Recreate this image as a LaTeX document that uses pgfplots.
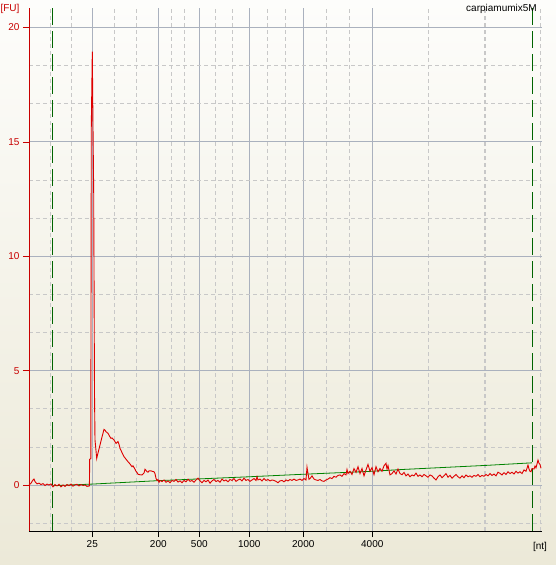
\documentclass[border=0pt]{standalone}
\usepackage{fontspec}
\setmainfont{Liberation Sans}
\usepackage{pgfplots}
\pgfplotsset{compat=1.18}
\definecolor{bgtop}{RGB}{253,253,251}
\definecolor{bgbot}{RGB}{236,233,216}
\definecolor{gridmaj}{RGB}{170,177,190}
\definecolor{gridmin}{RGB}{200,200,200}
\definecolor{trace}{RGB}{222,0,0}
\definecolor{base}{RGB}{0,130,0}
\definecolor{marker}{RGB}{0,100,0}
\definecolor{axred}{RGB}{200,0,0}
\begin{document}
\begin{tikzpicture}
\shade[top color=bgtop, bottom color=bgbot] (0pt,0pt) rectangle (556pt,565pt);
\begin{axis}[
  at={(29pt,34pt)}, anchor=south west,
  scale only axis, width=513pt, height=523pt,
  xmin=29, xmax=542, ymin=-2.01, ymax=20.85,
  axis lines*=left,
  x axis line style={black, line width=0.8pt},
  y axis line style={axred, line width=0.8pt},
  xtick={92.3,158.3,199.3,249.3,303.3,372.3},
  xticklabels={25,200,500,1000,2000,4000},
  ytick={0,5,10,15,20},
  minor xtick={50.7,71.7,114.3,136.3,171.7,184.3,215.7,232.3,267.7,285.3,326.7,349.3,428.7,485,540.3},
  minor ytick={-1.6667,1.6667,3.3333,6.6667,8.3333,11.6667,13.3333,16.6667,18.3333},
  grid=both,
  major grid style={gridmaj, line width=0.7pt},
  minor grid style={gridmin, dash pattern=on 4pt off 3pt, line width=0.7pt},
  tick align=outside,
  major tick length=6pt,
  minor tick length=0pt,
  xtick style={black, line width=0.6pt},
  ytick style={axred, line width=0.6pt},
  yticklabel style={axred},
  tick label style={font=\fontsize{10}{12}\selectfont},
  /pgf/number format/assume math mode=true,
  clip=true,
]
% thicker dashed gridline
\addplot[gridmin, line width=1.6pt, dash pattern=on 4pt off 3pt, forget plot] coordinates {(485,-2.01) (485,20.85)};
% marker lines
\addplot[marker, line width=1pt, dash pattern=on 17pt off 6pt] coordinates {(53,-2.01) (53,20.85)};
\addplot[marker, line width=1pt, dash pattern=on 17pt off 6pt] coordinates {(532,-2.01) (532,20.85)};
% baseline
\addplot[base, line width=0.8pt] coordinates {
(53,-0.03) (92,0.04) (158,0.19) (249,0.36) (303,0.47) (372,0.6) (403,0.68) (487,0.86) (532,0.97)};
% trace
\addplot[trace, line width=0.9pt] coordinates {
(29,0.0) (31,0.08) (33,0.22) (34,0.26) (35,0.15) (37,0.05) (39,0.08) (41,0.02) (43,0.06) (45,-0.02)
(47,0.04) (49,0.0) (51,0.05) (53,-0.08) (55,0.02) (57,-0.04) (59,0.03) (61,-0.08) (63,0.0) (65,-0.06)
(67,0.02) (69,-0.03) (71,0.04) (73,-0.05) (75,0.01) (77,0.03) (79,-0.04) (81,0.02) (83,-0.02) (85,0.0)
(87,-0.06) (89.4,-0.04) (89.7,1.13) (90.8,1.15) (91.3,15.66) (92.3,18.94) (93.0,15.66) (93.7,12.77)
(94.5,4.0) (95.0,1.97) (96.0,1.5) (96.7,1.16) (98,1.4) (100,1.75) (102,2.1) (104,2.43) (105,2.4)
(106,2.33) (108,2.26) (110,2.1) (111,2.04) (112,2.06) (114,1.97) (116,1.82) (117,1.86) (118,1.9)
(119,1.78) (120,1.6) (122,1.42) (124,1.24) (126,1.13) (128,1.02) (130,0.92) (132,0.8) (133,0.84)
(135,0.69) (136,0.6) (137,0.55) (138,0.47) (140,0.45) (142,0.44) (144,0.52) (145,0.69) (146,0.64)
(147,0.58) (148,0.56) (149,0.62) (151,0.62) (152,0.6) (154,0.58) (155,0.5) (156,0.29) (157,0.2)
(158,0.24) (159,0.12) (160,0.2) (162,0.15) (164,0.22) (166,0.12) (168,0.18) (170,0.1) (172,0.2)
(174,0.16) (176,0.24) (178,0.13) (180,0.18) (182,0.1) (184,0.2) (186,0.14) (188,0.25) (190,0.16)
(192,0.2) (194,0.12) (196,0.22) (198,0.3) (200,0.18) (202,0.1) (204,0.2) (206,0.14) (208,0.22)
(210,0.08) (212,0.18) (214,0.24) (216,0.15) (218,0.2) (220,0.12) (222,0.26) (224,0.18) (226,0.22)
(228,0.14) (230,0.24) (232,0.2) (234,0.28) (236,0.16) (238,0.22) (240,0.26) (242,0.18) (244,0.3)
(246,0.2) (248,0.24) (250,0.16) (252,0.22) (254,0.28) (256,0.2) (257,0.36) (258,0.22) (260,0.26)
(262,0.18) (264,0.28) (266,0.2) (268,0.24) (270,0.18) (272,0.22) (274,0.2) (276,0.16) (278,0.1)
(280,0.18) (282,0.2) (284,0.14) (286,0.22) (288,0.18) (290,0.24) (292,0.2) (294,0.26) (296,0.2)
(298,0.22) (300,0.26) (302,0.2) (304,0.28) (306,0.22) (307,0.78) (308,0.5) (309,0.25) (310,0.28)
(312,0.4) (314,0.26) (316,0.22) (318,0.2) (320,0.24) (322,0.18) (324,0.16) (326,0.22) (328,0.26)
(330,0.32) (332,0.28) (334,0.38) (336,0.34) (338,0.42) (340,0.44) (342,0.38) (344,0.5) (346,0.44)
(347,0.68) (348,0.5) (350,0.6) (352,0.46) (354,0.72) (356,0.55) (358,0.8) (360,0.5) (362,0.72)
(364,0.4) (366,0.66) (368,0.9) (370,0.6) (372,0.76) (374,0.45) (376,0.8) (378,0.58) (380,0.72)
(382,0.6) (384,0.84) (386,0.95) (387,0.7) (388,0.85) (390,0.44) (392,0.5) (394,0.62) (396,0.48)
(398,0.7) (400,0.5) (402,0.45) (404,0.55) (406,0.4) (408,0.48) (410,0.36) (412,0.44) (414,0.4)
(416,0.52) (418,0.38) (420,0.44) (422,0.36) (424,0.46) (426,0.4) (428,0.34) (430,0.44) (432,0.4)
(434,0.3) (436,0.22) (438,0.36) (440,0.44) (442,0.32) (444,0.4) (446,0.5) (448,0.34) (450,0.42)
(452,0.3) (454,0.38) (456,0.46) (458,0.36) (460,0.3) (462,0.4) (464,0.32) (466,0.44) (468,0.36)
(470,0.4) (472,0.34) (474,0.42) (476,0.38) (478,0.46) (480,0.36) (482,0.42) (484,0.38) (486,0.46)
(488,0.4) (490,0.5) (492,0.42) (494,0.48) (496,0.4) (498,0.56) (500,0.51) (502,0.44) (504,0.54)
(506,0.46) (508,0.58) (510,0.5) (512,0.56) (514,0.48) (516,0.6) (518,0.52) (520,0.58) (522,0.5)
(524,0.66) (526,0.6) (528,0.87) (529,0.7) (530,0.6) (531,0.58) (532,0.72) (534,0.7) (535,0.83)
(536,0.75) (538,1.09) (539,0.95) (540,0.9) (541,0.73)};
\end{axis}
\node[anchor=center, text=axred, font=\fontsize{10}{12}\selectfont, inner sep=0pt] at (10pt,556pt) {[FU]};
\node[anchor=east, font=\fontsize{10}{12}\selectfont, inner sep=0pt] at (537pt,556.5pt) {carpiamumix5M};
\node[anchor=center, font=\fontsize{10}{12}\selectfont, inner sep=0pt] at (540pt,18pt) {[nt]};
\pgfresetboundingbox
\useasboundingbox (0pt,0pt) rectangle (556pt,565pt);
\end{tikzpicture}
\end{document}
